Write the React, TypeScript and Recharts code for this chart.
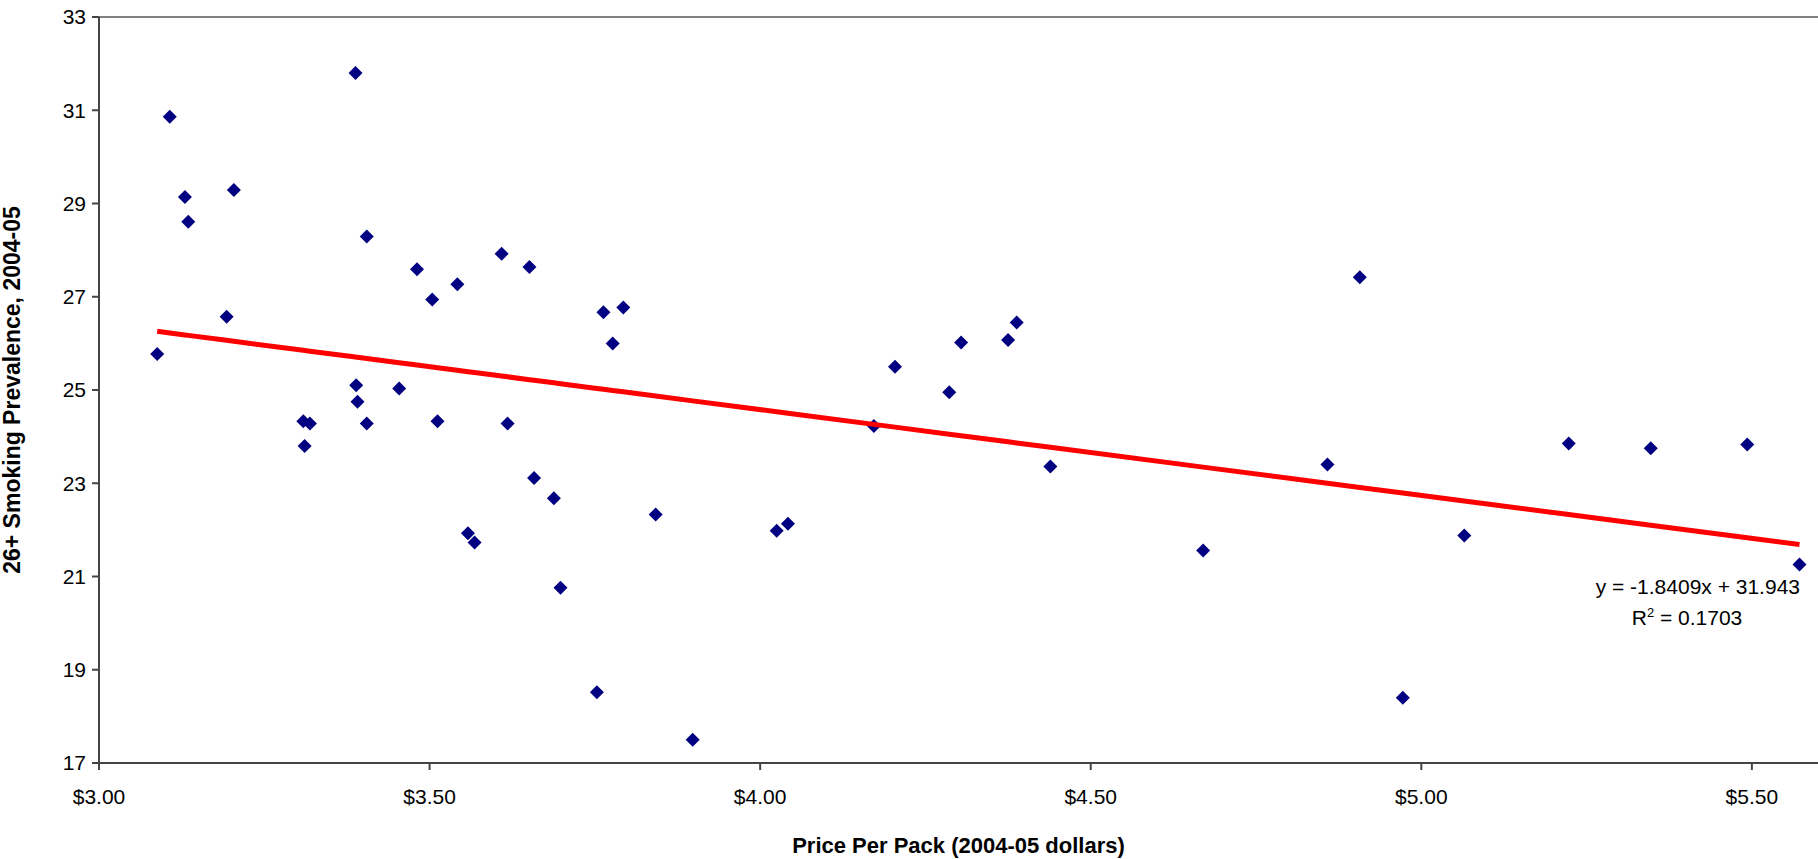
import { ScatterChart, Scatter, XAxis, YAxis, ReferenceLine } from "recharts";

const prices = [
  3.088, 3.107, 3.13, 3.135, 3.193, 3.204, 3.309, 3.311, 3.319, 3.388, 3.389, 3.391,
  3.405, 3.405, 3.454, 3.481, 3.504, 3.512, 3.542, 3.558, 3.568, 3.609, 3.618, 3.651,
  3.658, 3.688, 3.698, 3.753, 3.763, 3.777, 3.793, 3.842, 3.898, 4.025, 4.042, 4.172,
  4.204, 4.286, 4.304, 4.375, 4.388, 4.439, 4.67, 4.858, 4.907, 4.972, 5.065, 5.223,
  5.347, 5.493, 5.572,
];
const prevalence = [
  25.77, 30.86, 29.14, 28.61, 26.57, 29.29, 24.33, 23.8, 24.28, 31.8, 25.1, 24.75,
  28.29, 24.28, 25.03, 27.59, 26.94, 24.33, 27.27, 21.93, 21.73, 27.92, 24.28, 27.64,
  23.11, 22.68, 20.76, 18.52, 26.67, 26.0, 26.77, 22.33, 17.5, 21.98, 22.13, 24.23,
  25.5, 24.95, 26.02, 26.07, 26.45, 23.36, 21.56, 23.4, 27.42, 18.4, 21.88, 23.85,
  23.75, 23.83, 21.26,
];
const slope = -1.8409;
const intercept = 31.943;
const xTicks = [3, 3.5, 4, 4.5, 5, 5.5];
const yTicks = [17, 19, 21, 23, 25, 27, 29, 31, 33];

const points = prices.map((x, i) => ({ x, y: prevalence[i] }));
const trend = [...prices]
  .sort((a, b) => a - b)
  .map((x) => ({ x, y: slope * x + intercept }));

const font = "Liberation Sans, Arial, sans-serif";

// eslint-disable-next-line @typescript-eslint/no-explicit-any
const Diamond = (props: any) => {
  const { cx, cy } = props;
  const r = 7;
  return (
    <polygon
      points={`${cx},${cy - r} ${cx + r},${cy} ${cx},${cy + r} ${cx - r},${cy}`}
      fill="#000080"
    />
  );
};

export default function App() {
  return (
    <div style={{ position: "absolute", left: 0, top: 0, width: 1818, height: 859, background: "#fff" }}>
      <ScatterChart width={1818} height={859} margin={{ top: 17, right: 0, left: 0, bottom: 0 }}>
        <XAxis
          type="number"
          dataKey="x"
          domain={[3, 5.6]}
          ticks={xTicks}
          allowDataOverflow
          tickFormatter={(v) => `$${Number(v).toFixed(2)}`}
          tick={{ fill: "#000", fontSize: 21, fontFamily: font }}
          stroke="#444"
          strokeWidth={2}
          tickSize={7}
          tickMargin={19}
          height={96}
          label={{
            value: "Price Per Pack (2004-05 dollars)",
            position: "insideBottom",
            offset: 6,
            fill: "#000",
            fontSize: 22,
            fontWeight: "bold",
            fontFamily: font,
          }}
        />
        <YAxis
          type="number"
          dataKey="y"
          domain={[17, 33]}
          ticks={yTicks}
          tick={{ fill: "#000", fontSize: 21, fontFamily: font }}
          stroke="#444"
          strokeWidth={2}
          tickSize={7}
          tickMargin={6}
          width={99}
          label={{
            value: "26+ Smoking Prevalence, 2004-05",
            angle: -90,
            position: "insideLeft",
            offset: 12,
            style: { textAnchor: "middle" },
            fill: "#000",
            fontSize: 23,
            fontWeight: "bold",
            fontFamily: font,
          }}
        />
        <ReferenceLine y={33} stroke="#808080" strokeWidth={2} />
        <Scatter data={points} shape={<Diamond />} isAnimationActive={false} />
        <Scatter
          data={trend}
          line={{ stroke: "#ff0000", strokeWidth: 5 }}
          shape={() => <g />}
          isAnimationActive={false}
        />
        <text x={1800} y={594} textAnchor="end" fontSize={21} fontFamily={font} fill="#000">
          y = -1.8409x + 31.943
        </text>
        <text x={1687} y={625} textAnchor="middle" fontSize={21} fontFamily={font} fill="#000">
          R<tspan fontSize={13} dy={-8}>2</tspan>
          <tspan dy={8}> = 0.1703</tspan>
        </text>
      </ScatterChart>
    </div>
  );
}
